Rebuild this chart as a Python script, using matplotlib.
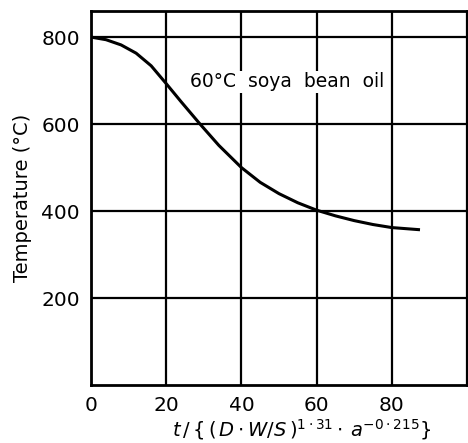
import matplotlib
matplotlib.use("Agg")
import matplotlib.pyplot as plt

# data
x_vals = [0, 4, 8, 12, 16, 20, 24, 29, 34, 40, 45, 50, 55, 60, 65, 70, 75, 80, 87.5]
temp_vals = [800, 794, 782, 763, 734, 693, 651, 600, 551, 500, 466, 440, 419, 402, 389, 378, 369, 362, 357]
x_ticks = [0, 20, 40, 60, 80]
y_ticks = [200, 400, 600, 800]
annotation = "60°C  soya  bean  oil"

plt.rcParams['font.family'] = ['DejaVu Sans']
fig = plt.figure(figsize=(4.68, 4.43), dpi=100)
ax = fig.add_axes([91/468, 1-385/443, (467-91)/468, (385-11)/443])

ax.plot(x_vals, temp_vals, color='black', lw=2.2, solid_capstyle='butt')
ax.set_xlim(0, 100)
ax.set_ylim(0, 860)
ax.set_xticks(x_ticks + [100])
ax.set_xticklabels([str(t) for t in x_ticks] + [''])
ax.set_yticks(y_ticks)
ax.set_yticklabels([str(t) for t in y_ticks])
ax.grid(True, color='black', lw=1.6)
ax.tick_params(length=0, pad=8, labelsize=14.5)
for s in ax.spines.values():
    s.set_linewidth(2)
ax.text(26.3, 697, annotation, fontsize=13.5, va='center', ha='left',
        bbox=dict(facecolor='white', edgecolor='none', pad=1))
ax.set_ylabel('Temperature (°C)', fontsize=14, labelpad=7)
ax.set_xlabel(r'$t\,/\,\{\,(\,D\cdot W/S\,)^{1\cdot31}\cdot\,a^{-0\cdot215}\}$', fontsize=14, labelpad=4)
ax.xaxis.set_label_coords(0.56, -0.085)

fig.savefig('out.png', dpi=100)
